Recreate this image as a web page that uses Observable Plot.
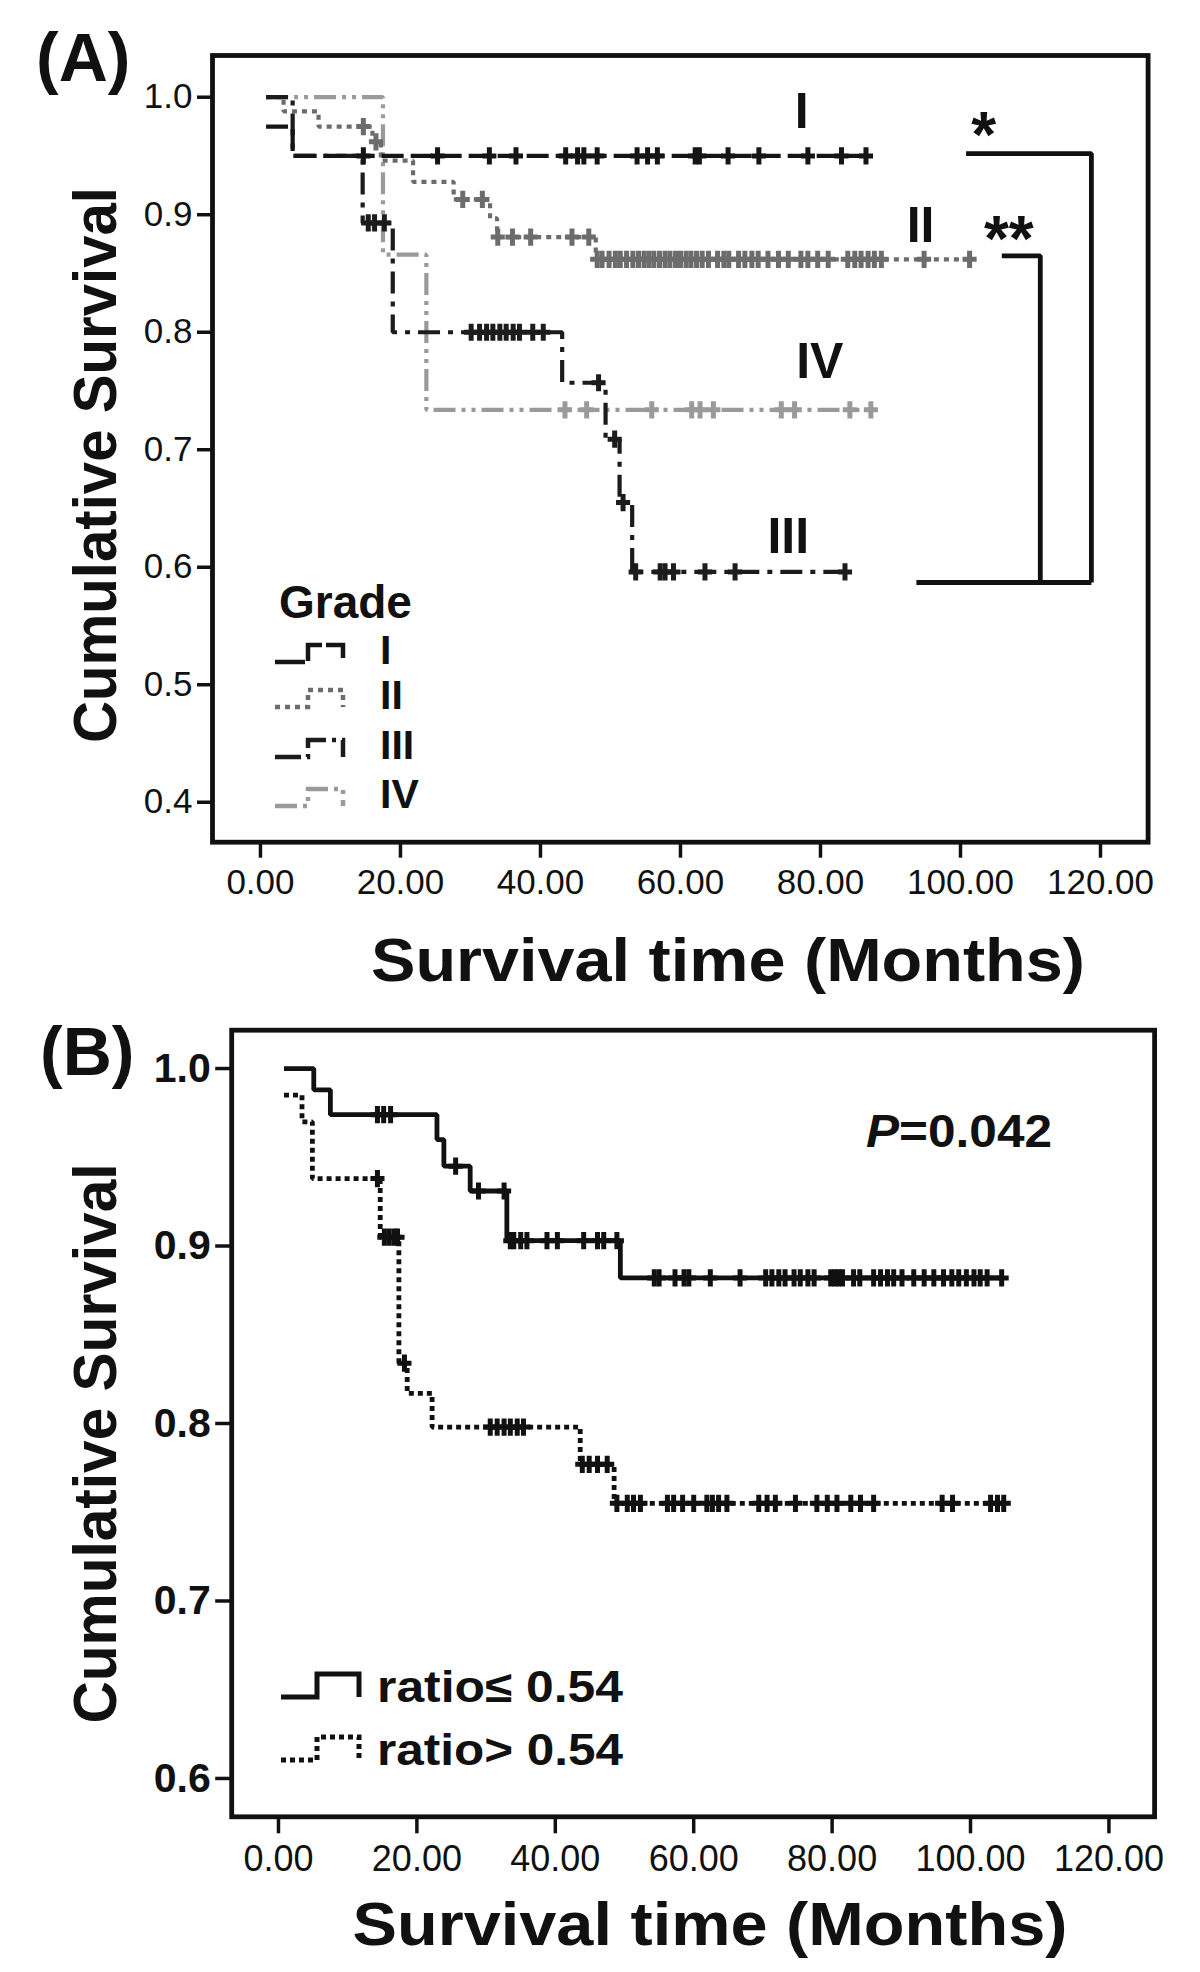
<!DOCTYPE html>
<html>
<head>
<meta charset="utf-8">
<script src="https://cdn.jsdelivr.net/npm/d3@7"></script>
<script src="https://cdn.jsdelivr.net/npm/@observablehq/plot@0.6"></script>
<style>
  html, body { margin: 0; padding: 0; background: #fff; }
  #chart svg { display: block; }
</style>
</head>
<body>
<div id="chart"></div>
<script>
// ================= DATA =================
// Axis ticks
const xTicks = [0, 20, 40, 60, 80, 100, 120];
const yTicksA = [0.4, 0.5, 0.6, 0.7, 0.8, 0.9, 1.0];
const yTicksB = [0.6, 0.7, 0.8, 0.9, 1.0];

// Panel A: Kaplan-Meier by grade (step change times in months, survival after the step)
const gradeNames = ["I", "II", "III", "IV"];

const gradeI_time = [0.8, 4.6, 86.5];
const gradeI_surv = [0.975, 0.95, 0.95];
const gradeI_cens = [14.7, 25.3, 32.7, 36.5, 43.6, 45.3, 46.2, 48.1, 53.8, 55.3, 56.7, 62.1, 62.7, 66.8, 71.2, 78.2, 83.0, 86.5];

const gradeII_time = [0.8, 3.3, 8.3, 16.0, 17.2, 21.8, 27.6, 32.8, 33.8, 47.9, 101.3];
const gradeII_surv = [1.0, 0.988, 0.975, 0.962, 0.946, 0.928, 0.913, 0.897, 0.881, 0.862, 0.862];
const gradeII_cens = [14.7, 16.5, 28.9, 31.7, 33.9, 36.0, 38.6, 44.5, 46.9, 48.1, 48.8, 49.8, 50.7, 51.4, 52.3, 53.2, 54.0, 54.8, 55.5, 56.2, 57.0, 57.8, 58.5, 59.3, 60.0, 60.8, 61.5, 62.3, 63.1, 64.0, 65.3, 66.2, 66.9, 68.3, 69.2, 70.2, 71.1, 72.5, 74.0, 75.4, 77.2, 78.2, 79.6, 81.1, 83.9, 84.9, 85.8, 86.8, 87.7, 88.7, 94.8, 101.3];

const gradeIII_time = [0.8, 4.6, 14.6, 18.9, 43.1, 49.3, 51.3, 53.1, 83.5];
const gradeIII_surv = [1.0, 0.95, 0.893, 0.80, 0.757, 0.709, 0.655, 0.596, 0.596];
const gradeIII_cens = [15.4, 16.3, 17.7, 30.1, 31.3, 32.3, 33.2, 34.2, 35.1, 36.1, 37.0, 38.9, 40.4, 48.3, 50.6, 51.8, 53.6, 57.1, 57.8, 59.0, 63.5, 67.8, 83.5];

const gradeIV_time = [0.8, 17.5, 23.7, 87.2];
const gradeIV_surv = [1.0, 0.866, 0.734, 0.734];
const gradeIV_cens = [43.5, 46.6, 55.9, 61.6, 62.8, 64.7, 74.4, 76.3, 84.2, 87.2];

// Panel A annotations (data units)
const annoLabels = ["I", "II", "IV", "III"];
const annoMonths = [77.3, 94.3, 79.9, 75.4];
const annoSurv = [0.987, 0.890, 0.775, 0.626];
const starLabels = ["*", "**"];
const starMonths = [103.3, 106.9];
const starSurv = [0.988, 0.899];
const bracket1_x = [100.8, 118.7, 118.7];
const bracket1_y = [0.952, 0.952, 0.587];
const bracket2_x = [105.9, 111.4, 111.4];
const bracket2_y = [0.865, 0.865, 0.587];
const bracketBase_x = [93.7, 118.7];
const bracketBase_y = [0.587, 0.587];

// Panel B: ratio groups
const groupNames = ["ratio\u2264 0.54", "ratio> 0.54"];

const lowRatio_time = [0.8, 5.1, 7.5, 22.9, 23.9, 27.7, 33.0, 49.4, 104.5];
const lowRatio_surv = [1.0, 0.988, 0.974, 0.960, 0.945, 0.931, 0.903, 0.882, 0.882];
const lowRatio_cens = [14.3, 15.2, 16.2, 25.6, 28.9, 32.6, 33.5, 34.0, 35.0, 35.9, 38.8, 40.3, 44.1, 46.1, 47.0, 48.9, 54.3, 55.0, 57.3, 58.6, 59.3, 62.4, 66.7, 70.4, 71.3, 72.3, 73.2, 74.5, 75.4, 76.5, 77.4, 79.8, 80.4, 80.9, 81.5, 83.1, 84.0, 86.0, 87.0, 88.0, 88.9, 90.1, 91.8, 93.3, 94.7, 96.1, 97.3, 98.3, 99.4, 100.5, 101.4, 102.4, 104.5];

const highRatio_time = [0.8, 3.4, 4.9, 14.7, 17.4, 18.6, 22.2, 43.6, 48.5, 104.8];
const highRatio_surv = [0.985, 0.970, 0.938, 0.905, 0.834, 0.817, 0.798, 0.777, 0.755, 0.755];
const highRatio_cens = [14.3, 15.3, 16.0, 16.7, 17.2, 18.2, 30.6, 31.6, 32.6, 33.5, 34.5, 35.4, 43.9, 44.9, 46.1, 47.5, 48.9, 50.4, 51.3, 52.3, 56.2, 57.1, 58.4, 60.0, 61.9, 62.7, 63.6, 64.8, 69.4, 70.6, 71.8, 74.7, 77.8, 79.3, 80.7, 82.7, 84.1, 86.0, 95.9, 97.4, 102.9, 103.9, 104.8];

const pLabel = "P=0.042";
const pMonths = 84.9;
const pSurv = 0.964;

// ================= STYLES =================
const FONT = "'Liberation Sans', Arial, Helvetica, sans-serif";
const INK = "#111";
const gradeStyle = {
  I:   {color: "#151515", dash: "22,7", legendDash: "30,4"},
  II:  {color: "#6c6c6c", dash: "5,5", legendDash: "5,5"},
  III: {color: "#1c1c1c", dash: "22,8,5,8", legendDash: "26,6,4,6"},
  IV:  {color: "#9a9a9a", dash: "22,6,4,6,4,6", legendDash: "22,6,4,6,4,6"}
};
const groupStyle = [
  {color: "#111", dash: null},
  {color: "#111", dash: "5,4"}
];

// ================= HELPERS =================
function stepAt(times, surv, t) {
  let v = surv[0];
  for (let i = 0; i < times.length; i++) if (times[i] <= t) v = surv[i];
  return v;
}
const curveRows = (times, surv) => times.map((t, i) => ({t, s: surv[i]}));
const censRows = (times, surv, cens) => cens.map(t => ({t, s: stepAt(times, surv, t)}));
const crossSym = {
  draw(ctx, size) {
    const r = Math.sqrt(size / Math.PI);
    ctx.moveTo(-r * 0.82, 0); ctx.lineTo(r * 0.82, 0);
    ctx.moveTo(0, -r); ctx.lineTo(0, r);
  }
};
function kmMarks(times, surv, cens, st, lw) {
  return [
    Plot.line(curveRows(times, surv), {
      x: "t", y: "s", curve: "step-after", stroke: st.color, strokeWidth: lw,
      strokeDasharray: st.dash || undefined, strokeLinecap: "butt", strokeLinejoin: "miter"
    }),
    Plot.dot(censRows(times, surv, cens), {
      x: "t", y: "s", symbol: crossSym, r: 8.6, stroke: st.color, strokeWidth: 5, fill: "none"
    })
  ];
}
function pathLine(xs, ys) {
  return Plot.line(xs.map((x, i) => ({x, y: ys[i]})), {
    x: "x", y: "y", stroke: INK, strokeWidth: 4.8, strokeLinecap: "butt", strokeLinejoin: "miter"
  });
}
const ns = "http://www.w3.org/2000/svg";

// ================= PANEL A =================
const seriesA = [
  {name: "IV", time: gradeIV_time, surv: gradeIV_surv, cens: gradeIV_cens},
  {name: "II", time: gradeII_time, surv: gradeII_surv, cens: gradeII_cens},
  {name: "III", time: gradeIII_time, surv: gradeIII_surv, cens: gradeIII_cens},
  {name: "I", time: gradeI_time, surv: gradeI_surv, cens: gradeI_cens}
];

const plotA = Plot.plot({
  width: 1200, height: 1000,
  marginLeft: 212, marginRight: 52.4, marginTop: 55, marginBottom: 158.3,
  style: {fontFamily: FONT, color: INK, background: "#fff", overflow: "visible"},
  x: {domain: [-6.85, 126.8]},
  y: {domain: [0.366, 1.0355]},
  marks: [
    ...seriesA.flatMap(g => kmMarks(g.time, g.surv, g.cens, gradeStyle[g.name], 4.2)),
    pathLine(bracket1_x, bracket1_y),
    pathLine(bracket2_x, bracket2_y),
    pathLine(bracketBase_x, bracketBase_y),
    Plot.text(annoLabels, {x: (d, i) => annoMonths[i], y: (d, i) => annoSurv[i], text: d => d,
      fontSize: 50, fontWeight: "bold", lineAnchor: "middle", fill: INK}),
    Plot.text(starLabels, {x: (d, i) => starMonths[i], y: (d, i) => starSurv[i], text: d => d,
      fontSize: 64, fontWeight: "bold", lineAnchor: "top", fill: INK}),
    Plot.axisX({ticks: xTicks, tickFormat: d => d.toFixed(2), tickSize: 16, tickPadding: 11,
      fontSize: 35, strokeWidth: 3.5, label: null}),
    Plot.axisY({ticks: yTicksA, tickFormat: d => d.toFixed(1), tickSize: 15, tickPadding: 5,
      fontSize: 35, strokeWidth: 3.5, label: null}),
    Plot.frame({strokeWidth: 4.8})
  ]
});

// ================= PANEL B =================
const seriesB = [
  {time: highRatio_time, surv: highRatio_surv, cens: highRatio_cens, st: groupStyle[1]},
  {time: lowRatio_time, surv: lowRatio_surv, cens: lowRatio_cens, st: groupStyle[0]}
];

const plotB = Plot.plot({
  width: 1200, height: 972,
  marginLeft: 231.2, marginRight: 45.9, marginTop: 29.7, marginBottom: 155.7,
  style: {fontFamily: FONT, color: INK, background: "#fff", overflow: "visible"},
  x: {domain: [-6.76, 126.6]},
  y: {domain: [0.5784, 1.0216]},
  marks: [
    ...seriesB.flatMap(g => kmMarks(g.time, g.surv, g.cens, g.st, 4.8)),
    Plot.text([pLabel], {x: () => pMonths, y: () => pSurv, text: d => d, fontSize: 46,
      fontWeight: "bold", textAnchor: "start", lineAnchor: "middle", fill: INK}),
    Plot.axisX({ticks: xTicks, tickFormat: d => d.toFixed(2), tickSize: 17, tickPadding: 12,
      fontSize: 36, strokeWidth: 3.5, label: null}),
    Plot.axisY({ticks: yTicksB, tickFormat: d => d.toFixed(1), tickSize: 16, tickPadding: 5,
      fontSize: 41, fontWeight: "bold", strokeWidth: 3.5, label: null}),
    Plot.frame({strokeWidth: 4.8})
  ]
});

// ================= TITLES & LEGENDS =================
function addText(g, txt, x, y, size, opts = {}) {
  const t = g.append("text").attr("x", x).attr("y", y).attr("font-size", size)
    .attr("font-weight", "bold").attr("fill", INK)
    .attr("text-anchor", opts.anchor || "start").text(txt);
  if (opts.length) t.attr("textLength", opts.length).attr("lengthAdjust", "spacingAndGlyphs");
  if (opts.transform) t.attr("transform", opts.transform);
  return t;
}
function stepIcon(g, x0, xm, x1, low, high, color, dash, w) {
  const p = g.append("path")
    .attr("d", `M${x0},${low}H${xm}V${high}H${x1}V${low}`)
    .attr("fill", "none").attr("stroke", color).attr("stroke-width", w)
    .attr("stroke-linecap", "butt").attr("stroke-linejoin", "miter");
  if (dash) p.attr("stroke-dasharray", dash);
}

// Panel A extras
const gA = d3.select(plotA).append("g").attr("font-family", FONT);
addText(gA, "(A)", 36, 81, 68);
addText(gA, "Cumulative Survival", 0, 0, 62, {anchor: "middle", length: 556, transform: "translate(116,465) rotate(-90)"});
addText(gA, "Survival time (Months)", 728, 981, 62, {anchor: "middle", length: 714});
addText(gA, "Grade", 279, 618, 46);
const legRowsA = [664, 709, 759, 808];
gradeNames.forEach((name, i) => {
  const b = legRowsA[i];
  const st = gradeStyle[name];
  stepIcon(gA, 275, 308, 343, b - 2, b - 19, st.color, st.legendDash, 4.5);
  addText(gA, name, 380, b, 41);
});

// Panel B extras
const gB = d3.select(plotB).append("g").attr("font-family", FONT);
addText(gB, "(B)", 40, 75, 68);
addText(gB, "Cumulative Survival", 0, 0, 62, {anchor: "middle", length: 560, transform: "translate(116,443.5) rotate(-90)"});
addText(gB, "Survival time (Months)", 710, 945, 62, {anchor: "middle", length: 715});
const legRowsB = [702, 765];
groupNames.forEach((name, i) => {
  const b = legRowsB[i];
  const st = groupStyle[i];
  stepIcon(gB, 281, 317, 359, b - 5, b - 28, st.color, st.dash, 5);
  addText(gB, name, 377, b, 44, {length: 246});
});

// italic P in p-value label
plotB.querySelectorAll("text").forEach(t => {
  if (t.textContent === pLabel) {
    t.textContent = "";
    const a = document.createElementNS(ns, "tspan");
    a.setAttribute("font-style", "italic");
    a.textContent = pLabel.slice(0, 1);
    const b = document.createElementNS(ns, "tspan");
    b.textContent = pLabel.slice(1);
    t.appendChild(a); t.appendChild(b);
    t.setAttribute("textLength", 186);
    t.setAttribute("lengthAdjust", "spacingAndGlyphs");
  }
});

const chart = document.getElementById("chart");
chart.appendChild(plotA);
chart.appendChild(plotB);
</script>
</body>
</html>
